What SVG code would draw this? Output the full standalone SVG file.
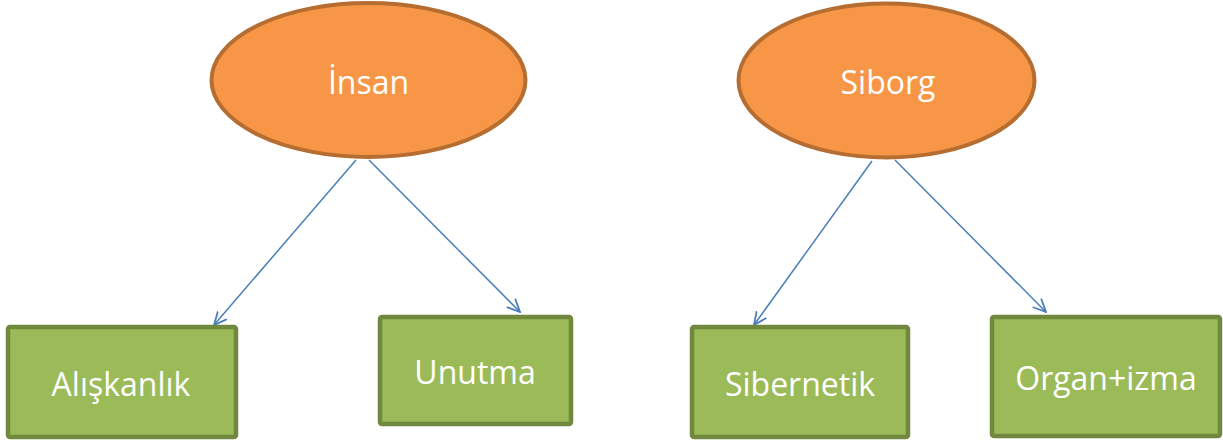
<svg xmlns="http://www.w3.org/2000/svg" width="1223" height="443" viewBox="0 0 1223 443">
<style>
.ell{fill:#F79646;stroke:#B66D31;stroke-width:4}
.box{fill:#9BBB59;stroke:#71893F;stroke-width:4.5}
.t{font-family:"Open Sans","Liberation Sans",sans-serif;font-size:32px;fill:#FFFFFF;text-anchor:middle;dominant-baseline:central}
.c{stroke:#4A7EBB;stroke-width:1.5;fill:none;marker-end:url(#a)}
</style>
<defs>
<marker id="a" viewBox="0 0 14 14" refX="13" refY="7" markerWidth="14" markerHeight="14" markerUnits="userSpaceOnUse" orient="auto">
<path d="M0,1 L13,7 L0,13" fill="none" stroke="#4A7EBB" stroke-width="1.8"/>
</marker>
</defs>
<g id="connectors">
<line class="c" x1="356" y1="160" x2="214" y2="325"/>
<line class="c" x1="369" y1="160" x2="520" y2="312"/>
<line class="c" x1="872" y1="161" x2="754" y2="325"/>
<line class="c" x1="895" y1="160" x2="1046" y2="312"/>
</g>
<g id="insan"><ellipse class="ell" cx="368.5" cy="80" rx="157" ry="77"/><text class="t" x="368.5" y="81">İnsan</text></g>
<g id="siborg"><ellipse class="ell" cx="886.5" cy="80.5" rx="148" ry="77"/><text class="t" x="888" y="81">Siborg</text></g>
<g id="aliskanlik"><rect class="box" x="8" y="327" width="228" height="110" rx="2"/><text class="t" x="121" y="383">Alışkanlık</text></g>
<g id="unutma"><rect class="box" x="380" y="317" width="191" height="107" rx="2"/><text class="t" x="475" y="371">Unutma</text></g>
<g id="sibernetik"><rect class="box" x="692" y="327" width="216" height="110" rx="2"/><text class="t" x="800" y="383">Sibernetik</text></g>
<g id="organizma"><rect class="box" x="992" y="317" width="228" height="119" rx="2"/><text class="t" x="1106" y="377">Organ+izma</text></g>
</svg>
